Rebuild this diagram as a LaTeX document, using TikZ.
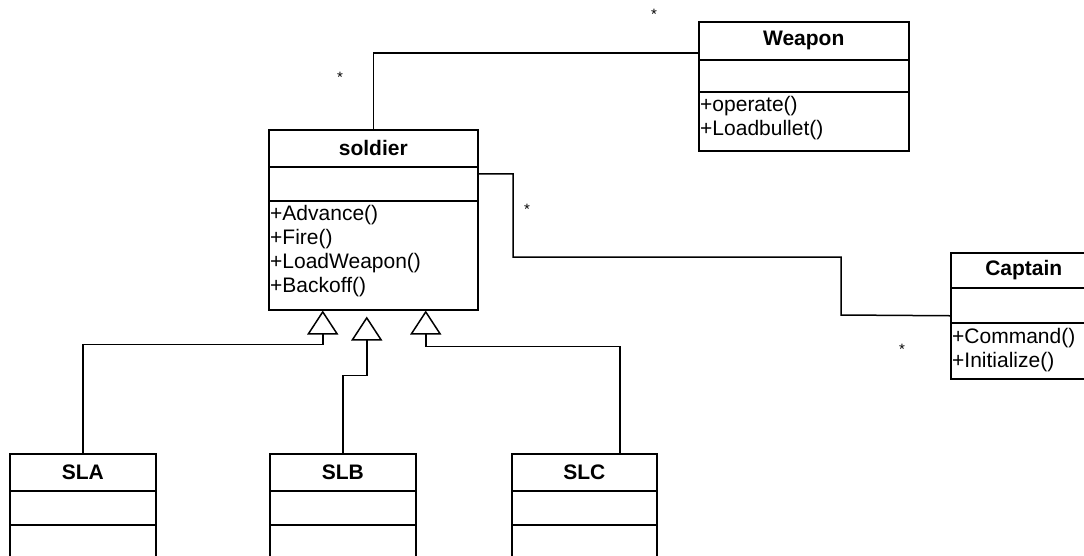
\documentclass[tikz,border=0pt]{standalone}
\usepackage{fontspec}
\setmainfont{Liberation Sans}
\usetikzlibrary{arrows.meta}
\begin{document}
\begin{tikzpicture}[x=1pt,y=-1pt,
  classbox/.style={draw,line width=1.5pt,rectangle,inner sep=0pt,anchor=north west},
  divline/.style={line width=1.5pt},
  conn/.style={line width=1.5pt},
  gen/.style={line width=1.5pt,-{Triangle[open,length=24pt,width=31pt,fill=white]}},
  ctitle/.style={font=\fontsize{21}{22}\selectfont\bfseries,inner sep=0pt},
  cop/.style={font=\fontsize{21}{22}\selectfont,inner sep=0pt,anchor=west},
  mult/.style={font=\fontsize{15}{15}\selectfont,inner sep=0pt}
]
\useasboundingbox (0,0) rectangle (1084,555);
\clip (0,0) rectangle (1084,555);

% Weapon
\node[classbox,minimum width=210pt,minimum height=129pt] (weapon) at (698,21) {};
\draw[divline] (weapon.west |- 0,60) -- (weapon.east |- 0,60);
\draw[divline] (weapon.west |- 0,92) -- (weapon.east |- 0,92);
\node[ctitle] (weapontitle) at (weapon.north |- 0,40) {Weapon};
\node[cop] (wop1) at (700,106) {+operate()};
\node[cop] (wop2) at (700,130) {+Loadbullet()};

% soldier
\node[classbox,minimum width=209pt,minimum height=180pt] (soldier) at (268,129) {};
\draw[divline] (soldier.west |- 0,167) -- (soldier.east |- 0,167);
\draw[divline] (soldier.west |- 0,201) -- (soldier.east |- 0,201);
\node[ctitle] (soldiertitle) at (soldier.north |- 0,148) {soldier};
\node[cop] (sop1) at (270,215) {+Advance()};
\node[cop] (sop2) at (270,239) {+Fire()};
\node[cop] (sop3) at (270,263) {+LoadWeapon()};
\node[cop] (sop4) at (270,287) {+Backoff()};

% Captain
\node[classbox,minimum width=146pt,minimum height=126pt] (captain) at (950,252) {};
\draw[divline] (captain.west |- 0,288) -- (captain.east |- 0,288);
\draw[divline] (captain.west |- 0,323) -- (captain.east |- 0,323);
\node[ctitle] (captaintitle) at (captain.north |- 0,270) {Captain};
\node[cop] (cop1) at (952,338) {+Command()};
\node[cop] (cop2) at (952,362) {+Initialize()};

% SLA, SLB, SLC
\node[classbox,minimum width=146pt,minimum height=130pt] (sla) at (9,453) {};
\draw[divline] (sla.west |- 0,491) -- (sla.east |- 0,491);
\draw[divline] (sla.west |- 0,525) -- (sla.east |- 0,525);
\node[ctitle] (slatitle) at (sla.north |- 0,472) {SLA};

\node[classbox,minimum width=146pt,minimum height=130pt] (slb) at (269,453) {};
\draw[divline] (slb.west |- 0,491) -- (slb.east |- 0,491);
\draw[divline] (slb.west |- 0,525) -- (slb.east |- 0,525);
\node[ctitle] (slbtitle) at (slb.north |- 0,472) {SLB};

\node[classbox,minimum width=145pt,minimum height=130pt] (slc) at (511,453) {};
\draw[divline] (slc.west |- 0,491) -- (slc.east |- 0,491);
\draw[divline] (slc.west |- 0,525) -- (slc.east |- 0,525);
\node[ctitle] (slctitle) at (slc.north |- 0,472) {SLC};

% associations
\draw[conn] (soldier.north) |- ([yshift=33.5pt]weapon.west);
\draw[conn] ([yshift=46pt]soldier.east) -| (513,257) -| (841,315) -- (captain.west);

% generalizations
\draw[gen] (sla.north) |- ([xshift=-50.5pt,yshift=-34pt]soldier.south) -- ([xshift=-50.5pt]soldier.south);
\draw[gen] (slb.north) |- ([xshift=-6.5pt,yshift=-65pt]soldier.south) -- ([xshift=-6.5pt,yshift=-6pt]soldier.south);
\draw[gen] ([xshift=35.5pt]slc.north) |- ([xshift=52.5pt,yshift=-36pt]soldier.south) -- ([xshift=52.5pt]soldier.south);

% multiplicities
\node[mult] (m1) at (340,77) {*};
\node[mult] (m2) at (654,14) {*};
\node[mult] (m3) at (527,209) {*};
\node[mult] (m4) at (902,349) {*};
\end{tikzpicture}
\end{document}
